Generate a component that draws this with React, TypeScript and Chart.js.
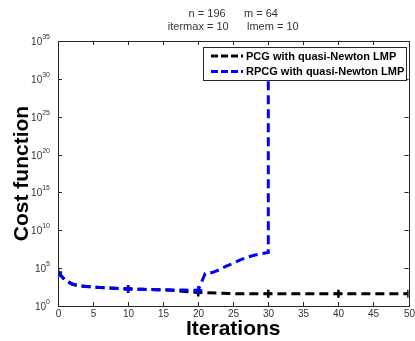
import React, { useEffect, useRef } from "react";
import { Chart, registerables } from "chart.js";

Chart.register(...registerables);

const titleLine1 = "n = 196      m = 64";
const titleLine2 = "itermax = 10      lmem = 10";
const xAxisTitle = "Iterations";
const yAxisTitle = "Cost function";
const legendLabels = ["PCG with quasi-Newton LMP", "RPCG with quasi-Newton LMP"];

const xTicks = [0, 5, 10, 15, 20, 25, 30, 35, 40, 45, 50];
const yTickExponents = [0, 5, 10, 15, 20, 25, 30, 35];

const iterPCG = [0, 1, 2, 3, 4, 5, 6, 7, 8, 9, 10, 11, 12, 13, 14, 15, 16, 17, 18, 19, 20, 25, 30, 35, 40, 45, 50];
const costPCG = [2.5e4, 2.8e3, 8e2, 4.5e2, 3.8e2, 3.2e2, 2.8e2, 2.5e2, 2.2e2, 2.0e2, 1.8e2, 1.7e2, 1.6e2, 1.5e2, 1.45e2, 1.4e2, 1.2e2, 1.0e2, 8.5e1, 7.5e1, 6.3e1, 4.2e1, 4.0e1, 4.0e1, 4.0e1, 4.0e1, 4.0e1];

const iterRPCG = [0, 1, 2, 3, 4, 5, 6, 7, 8, 9, 10, 11, 12, 13, 14, 15, 16, 17, 18, 19, 20, 21, 22, 23, 24, 25, 26, 27, 28, 29, 30, 30];
const costRPCG = [2.5e4, 2.8e3, 8e2, 4.5e2, 3.8e2, 3.2e2, 2.8e2, 2.5e2, 2.2e2, 2.0e2, 1.8e2, 1.7e2, 1.6e2, 1.5e2, 1.45e2, 1.4e2, 1.35e2, 1.3e2, 1.25e2, 1.2e2, 1.2e2, 2.0e4, 2.6e4, 6e4, 1.8e5, 4.5e5, 1.2e6, 2.8e6, 5e6, 8e6, 1.2e7, 1e33];

const FONT = '"Liberation Sans", Arial, sans-serif';
const TEXT = "#333333";

const framePlugin = {
  id: "matlabFrame",
  afterDraw(chart: any) {
    const ctx = chart.ctx as CanvasRenderingContext2D;
    const { left, right, top, bottom } = chart.chartArea;
    const xs = chart.scales.x;
    const ys = chart.scales.y;
    ctx.save();
    ctx.strokeStyle = "#262626";
    ctx.lineWidth = 1;
    ctx.strokeRect(Math.round(left) + 0.5, Math.round(top) + 0.5, Math.round(right - left), Math.round(bottom - top));
    ctx.fillStyle = TEXT;
    ctx.font = `10px ${FONT}`;
    ctx.textAlign = "center";
    ctx.textBaseline = "top";
    xTicks.forEach((v) => {
      const px = Math.round(xs.getPixelForValue(v)) + 0.5;
      ctx.beginPath();
      ctx.moveTo(px, bottom);
      ctx.lineTo(px, bottom - 4);
      ctx.moveTo(px, top);
      ctx.lineTo(px, top + 4);
      ctx.stroke();
      ctx.fillText(String(v), px, bottom + 3);
    });
    yTickExponents.forEach((e) => {
      const py = Math.round(ys.getPixelForValue(Math.pow(10, e))) + 0.5;
      ctx.beginPath();
      ctx.moveTo(left, py);
      ctx.lineTo(left + 4, py);
      ctx.moveTo(right, py);
      ctx.lineTo(right - 4, py);
      ctx.stroke();
      ctx.font = `7px ${FONT}`;
      const expStr = String(e);
      const ew = ctx.measureText(expStr).width;
      ctx.textAlign = "left";
      ctx.textBaseline = "alphabetic";
      const expX = left - 8 - ew;
      ctx.fillText(expStr, expX, py - 3);
      ctx.font = `10px ${FONT}`;
      ctx.textAlign = "right";
      ctx.fillText("10", expX, py + 3.5);
    });
    ctx.textAlign = "center";
    ctx.textBaseline = "middle";
    ctx.font = `11px ${FONT}`;
    const cx = (left + right) / 2;
    ctx.fillText(titleLine1, cx, 14);
    ctx.fillText(titleLine2, cx, 27);
    ctx.fillStyle = "#000";
    ctx.font = `bold 21px ${FONT}`;
    ctx.fillText(xAxisTitle, cx, 329);
    ctx.save();
    ctx.translate(22, (top + bottom) / 2);
    ctx.rotate(-Math.PI / 2);
    ctx.fillText(yAxisTitle, 0, 0);
    ctx.restore();
    const lx = 203, ly = 47, lw = 203, lh = 33;
    ctx.fillStyle = "#fff";
    ctx.fillRect(lx, ly, lw, lh);
    ctx.strokeStyle = "#262626";
    ctx.lineWidth = 1;
    ctx.strokeRect(lx + 0.5, ly + 0.5, lw, lh);
    const colors = ["#000000", "#0000ff"];
    ctx.font = `bold 11px ${FONT}`;
    ctx.textAlign = "left";
    ctx.textBaseline = "middle";
    legendLabels.forEach((lab, i) => {
      const yy = ly + 9 + i * 15.5;
      ctx.strokeStyle = colors[i];
      ctx.lineWidth = 3;
      ctx.setLineDash([7, 3]);
      ctx.beginPath();
      ctx.moveTo(211, yy);
      ctx.lineTo(243, yy);
      ctx.stroke();
      ctx.setLineDash([]);
      ctx.fillStyle = "#000";
      ctx.fillText(lab, 246, yy + 0.5);
    });
    ctx.restore();
  },
};

export default function App() {
  const ref = useRef<HTMLCanvasElement>(null);
  useEffect(() => {
    if (!ref.current) return;
    const markerPCG = (c: any) => (c.raw && c.raw.x % 10 === 0 ? 4 : 0);
    const markerRPCG = (c: any) => (c.raw && c.raw.x % 10 === 0 && c.raw.x < 30 ? 4 : 0);
    const chart = new Chart(ref.current, {
      type: "line",
      data: {
        datasets: [
          {
            label: legendLabels[0],
            data: iterPCG.map((x, i) => ({ x, y: costPCG[i] })),
            borderColor: "#000000",
            backgroundColor: "#000000",
            borderWidth: 3,
            borderDash: [9, 5],
            pointStyle: "cross",
            pointRadius: markerPCG,
            pointBorderWidth: 2.5,
            tension: 0,
            order: 2,
          },
          {
            label: legendLabels[1],
            data: iterRPCG.map((x, i) => ({ x, y: costRPCG[i] })),
            borderColor: "#0000ff",
            backgroundColor: "#0000ff",
            borderWidth: 3,
            borderDash: [9, 5],
            pointStyle: "cross",
            pointRadius: markerRPCG,
            pointBorderWidth: 2.5,
            tension: 0,
            order: 1,
          },
        ],
      },
      options: {
        responsive: false,
        animation: false,
        layout: { padding: { left: 58, right: 5, top: 41, bottom: 35 } },
        plugins: { legend: { display: false }, tooltip: { enabled: false }, title: { display: false } },
        scales: {
          x: { type: "linear", min: 0, max: 50, display: false },
          y: { type: "logarithmic", min: 1, max: 1e35, display: false },
        },
      },
      plugins: [framePlugin],
    });
    return () => chart.destroy();
  }, []);
  return (
    <div style={{ position: "fixed", left: 0, top: 0, width: 415, height: 341, background: "#fff" }}>
      <canvas ref={ref} width={415} height={341} />
    </div>
  );
}
